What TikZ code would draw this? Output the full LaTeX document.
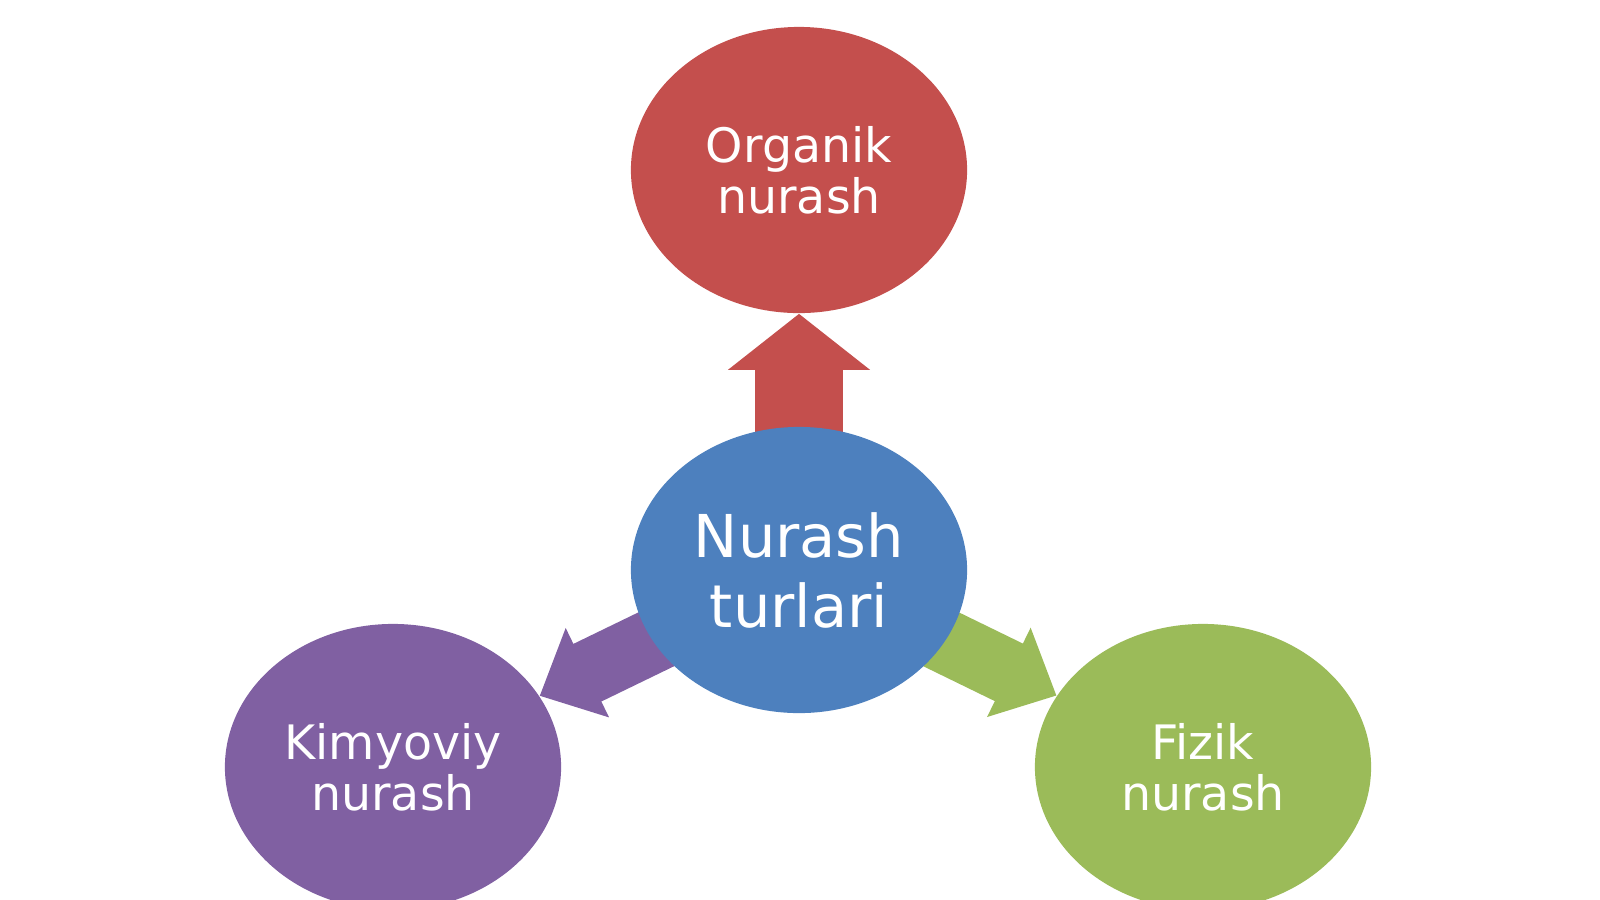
\documentclass[tikz,border=0pt]{standalone}
\usepackage{fontspec}
\newfontfamily\bubblefont{DejaVu Sans}
\usepackage{tikz}
\usetikzlibrary{shapes.geometric,arrows.meta,backgrounds}

\definecolor{orgred}{RGB}{196,79,77}
\definecolor{nurblue}{RGB}{77,128,190}
\definecolor{kimpurple}{RGB}{128,96,162}
\definecolor{fizgreen}{RGB}{155,187,89}

\tikzset{
  bubble/.style={ellipse, minimum width=3.36cm, minimum height=2.86cm, inner sep=0pt,
    text=white, align=center, font=\bubblefont\fontsize{13.5}{14.4}\selectfont},
  spoke/.style={line width=0.64cm, -{Triangle[width=0.96cm,length=0.53cm]}},
  upspoke/.style={line width=0.88cm, -{Triangle[width=1.39cm,length=0.56cm]}}
}

\begin{document}
\begin{tikzpicture}[x=0.01cm,y=-0.01cm]
\useasboundingbox (0,0) rectangle (1600,899);
\clip (0,0) rectangle (1600,899);
\node[bubble,fill=nurblue,font=\bubblefont\fontsize{16.8}{19.9}\selectfont] (turlar) at (799,570) {Nurash\\turlari};
\node[bubble,fill=orgred] (organik) at (799,170) {Organik\\nurash};
\node[bubble,fill=kimpurple] (kimyoviy) at (393,767) {Kimyoviy\\nurash};
\node[bubble,fill=fizgreen] (fizik) at (1203,767) {Fizik\\nurash};
\begin{scope}[on background layer]
\draw[upspoke,orgred] (turlar.center) -- (organik);
\draw[spoke,kimpurple] (turlar.center) -- (kimyoviy);
\draw[spoke,fizgreen] (turlar.center) -- (fizik);
\end{scope}
\end{tikzpicture}
\end{document}
